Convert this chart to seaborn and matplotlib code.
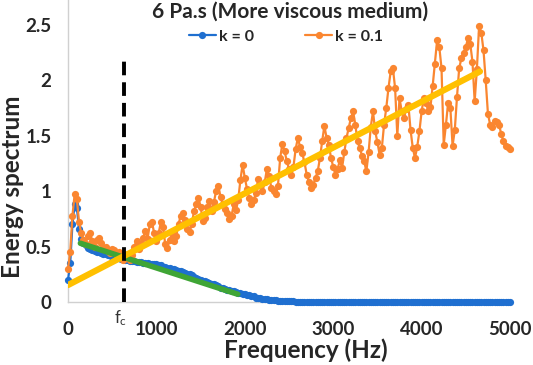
import numpy as np
import pandas as pd
import seaborn as sns
import matplotlib.pyplot as plt

# Frequency grid (Hz), one point every 25 Hz
freq = np.arange(0, 5001, 25)

# k = 0 (blue)
energy_k0 = [
    0.20, 0.35, 0.70, 0.88, 0.85, 0.66, 0.57, 0.53, 0.51, 0.49,
    0.48, 0.47, 0.46, 0.45, 0.45, 0.44, 0.43, 0.43, 0.42, 0.42,
    0.41, 0.41, 0.40, 0.40, 0.39, 0.39, 0.38, 0.38, 0.37, 0.37,
    0.37, 0.36, 0.36, 0.36, 0.35, 0.35, 0.35, 0.34, 0.34, 0.34,
    0.34, 0.33, 0.33, 0.32, 0.32, 0.31, 0.31, 0.30, 0.30, 0.29,
    0.28, 0.28, 0.27, 0.26, 0.25, 0.25, 0.24, 0.23, 0.22, 0.21,
    0.20, 0.19, 0.19, 0.18, 0.17, 0.16, 0.16, 0.15, 0.14, 0.13,
    0.13, 0.12, 0.11, 0.11, 0.10, 0.10, 0.09, 0.08, 0.08, 0.07,
    0.07, 0.06, 0.06, 0.05, 0.05, 0.04, 0.04, 0.04, 0.03, 0.03,
    0.03, 0.02, 0.02, 0.02, 0.02, 0.01, 0.01, 0.01, 0.01, 0.01,
    0.005, 0.005, 0.005, 0.0, 0.0, 0.0, 0.0, 0.0, 0.0, 0.0,
    0.0, 0.0, 0.0, 0.0, 0.0, 0.0, 0.0, 0.0, 0.0, 0.0,
    0.0, 0.0, 0.0, 0.0, 0.0, 0.0, 0.0, 0.0, 0.0, 0.0,
    0.0, 0.0, 0.0, 0.0, 0.0, 0.0, 0.0, 0.0, 0.0, 0.0,
    0.0, 0.0, 0.0, 0.0, 0.0, 0.0, 0.0, 0.0, 0.0, 0.0,
    0.0, 0.0, 0.0, 0.0, 0.0, 0.0, 0.0, 0.0, 0.0, 0.0,
    0.0, 0.0, 0.0, 0.0, 0.0, 0.0, 0.0, 0.0, 0.0, 0.0,
    0.0, 0.0, 0.0, 0.0, 0.0, 0.0, 0.0, 0.0, 0.0, 0.0,
    0.0, 0.0, 0.0, 0.0, 0.0, 0.0, 0.0, 0.0, 0.0, 0.0,
    0.0, 0.0, 0.0, 0.0, 0.0, 0.0, 0.0, 0.0, 0.0, 0.0,
    0.0,
]

# k = 0.1 (orange)
energy_k01 = [
    0.30, 0.45, 0.78, 0.97, 0.93, 0.72, 0.62, 0.56, 0.52, 0.60,
    0.62, 0.55, 0.50, 0.56, 0.58, 0.53, 0.48, 0.50, 0.46, 0.44,
    0.48, 0.47, 0.42, 0.45, 0.40, 0.38, 0.40, 0.43, 0.38, 0.42,
    0.50, 0.55, 0.48, 0.52, 0.58, 0.64, 0.57, 0.70, 0.72, 0.62,
    0.55, 0.62, 0.72, 0.68, 0.52, 0.49, 0.56, 0.62, 0.55, 0.60,
    0.70, 0.78, 0.80, 0.74, 0.66, 0.63, 0.70, 0.82, 0.88, 0.94,
    0.86, 0.73, 0.76, 0.86, 0.91, 0.82, 0.90, 1.00, 1.05, 0.95,
    0.88, 0.84, 0.80, 0.75, 0.78, 0.88, 0.83, 0.92, 1.10, 1.24,
    1.12, 1.02, 0.94, 0.88, 0.92, 0.98, 1.11, 1.06, 1.00, 1.08,
    1.20, 1.14, 1.03, 1.00, 0.97, 1.05, 1.30, 1.43, 1.36, 1.27,
    1.20, 1.15, 1.22, 1.38, 1.48, 1.40, 1.34, 1.26, 1.15, 1.08,
    1.03, 1.06, 1.12, 1.18, 1.30, 1.45, 1.59, 1.48, 1.42, 1.30,
    1.22, 1.15, 1.20, 1.28, 1.21, 1.35, 1.48, 1.57, 1.66, 1.72,
    1.60, 1.45, 1.39, 1.32, 1.27, 1.18, 1.35, 1.58, 1.72, 1.54,
    1.44, 1.33, 1.39, 1.60, 1.75, 1.93, 2.08, 2.11, 1.93, 1.50,
    1.84, 1.72, 1.66, 1.74, 1.78, 1.55, 1.39, 1.30, 1.40, 1.54,
    1.72, 1.84, 1.80, 1.72, 1.76, 1.95, 2.15, 2.36, 2.30, 2.11,
    1.42, 1.60, 1.80, 1.75, 1.41, 1.55, 1.85, 2.11, 2.20, 2.25,
    2.30, 2.38, 2.33, 2.17, 1.81, 2.10, 2.49, 2.43, 2.27, 2.00,
    1.70, 1.60, 1.58, 1.63, 1.62, 1.60, 1.52, 1.45, 1.41, 1.40,
    1.38,
]

# trend lines (end points)
trend_k0_freq = [140, 1920]
trend_k0_energy = [0.53, 0.07]
trend_k01_freq = [0, 4660]
trend_k01_energy = [0.153, 2.08]

# cut-off frequency marker
fc = 630
fc_top = 2.22

x_ticks = [0, 1000, 2000, 3000, 4000, 5000]
y_ticks = [0, 0.5, 1, 1.5, 2, 2.5]
y_tick_labels = ["0", "0.5", "1", "1.5", "2", "2.5"]

blue = "#1F6FD0"
orange = "#FA8630"
yellow = "#FFC000"
green = "#3FA535"

sns.set_theme(style="white")
plt.rcParams["font.family"] = ["Lato", "DejaVu Sans"]
plt.rcParams["mathtext.default"] = "regular"

fig = plt.figure(figsize=(5.33, 3.65), dpi=100)
ax = fig.add_axes([0.1276, 0.1726, 0.8293, 0.8274])

df = pd.DataFrame({
    "freq": np.concatenate([freq, freq]),
    "energy": energy_k0 + energy_k01,
    "k": ["k = 0"] * len(freq) + ["k = 0.1"] * len(freq),
})

sns.lineplot(data=df, x="freq", y="energy", hue="k",
             palette={"k = 0": blue, "k = 0.1": orange},
             marker="o", markersize=5.2, markeredgewidth=0,
             linewidth=1.6, ax=ax, clip_on=False, zorder=3)

sns.lineplot(x=trend_k0_freq, y=trend_k0_energy, color=green,
             linewidth=4, ax=ax, legend=False, zorder=4)
sns.lineplot(x=trend_k01_freq, y=trend_k01_energy, color=yellow,
             linewidth=4.5, ax=ax, legend=False, zorder=5)

ax.plot([fc, fc], [0, fc_top], color="black", linewidth=2.8,
        dashes=(3.5, 1.8), zorder=6)

ax.set_xlim(0, 5000)
ax.set_ylim(0, 2.725)
ax.set_xticks(x_ticks)
ax.set_xticklabels([str(t) for t in x_ticks])
ax.set_yticks(y_ticks)
ax.set_yticklabels(y_tick_labels)
ax.tick_params(axis="both", length=0, labelsize=13.5)
ax.tick_params(axis="x", pad=14)
ax.tick_params(axis="y", pad=12)
for lab in ax.get_xticklabels() + ax.get_yticklabels():
    lab.set_fontweight("bold")

for side in ["top", "right"]:
    ax.spines[side].set_visible(False)
for side in ["left", "bottom"]:
    ax.spines[side].set_color("#D0D0D0")
    ax.spines[side].set_linewidth(1)

ax.set_xlabel("")
ax.set_ylabel("")
fig.text(306 / 533, 1 - 350 / 365, "Frequency (Hz)", ha="center", va="center",
         fontsize=17.5, fontweight="bold")
fig.text(13 / 533, 1 - 187 / 365, "Energy spectrum", ha="center", va="center",
         rotation=90, fontsize=17.5, fontweight="bold")
fig.text(290 / 533, 1 - 12 / 365, "6 Pa.s (More viscous medium)", ha="center",
         va="center", fontsize=15, fontweight="bold")
ax.text(fc - 30, -0.06, "f$_c$", ha="center", va="top", fontsize=12,
        color="#333333")

leg = ax.legend(loc="center", bbox_to_anchor=(286 / 533, 1 - 37 / 365),
                bbox_transform=fig.transFigure, ncol=2, frameon=False,
                handlelength=1.7, handletextpad=0.2, columnspacing=3.2,
                prop={"weight": "bold", "size": 11.5})

fig.savefig("out.png", dpi=100)
